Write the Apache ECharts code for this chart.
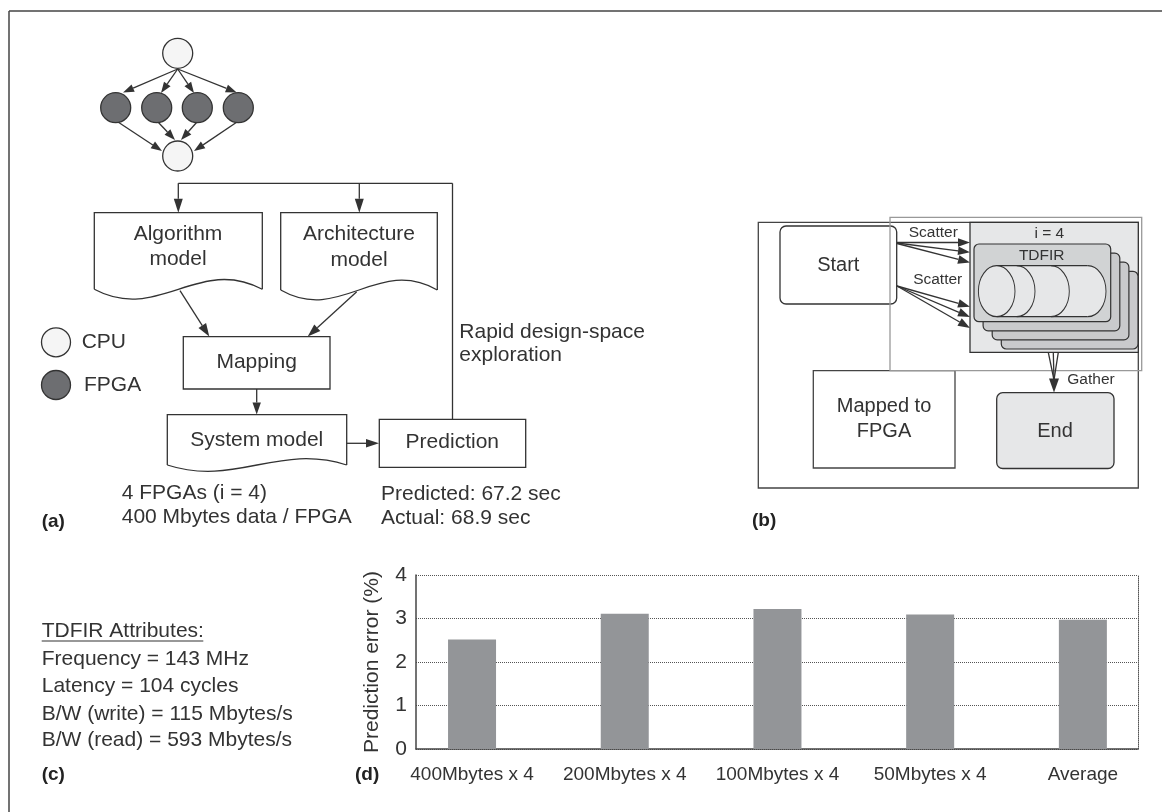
<!DOCTYPE html>
<html>
<head>
<meta charset="utf-8">
<script src="https://cdn.jsdelivr.net/npm/echarts@6/dist/echarts.min.js"></script>
<style>html,body{margin:0;padding:0;background:#fff}#main{width:1162px;height:812px}</style>
</head>
<body>
<div id="main"></div>
<script>
// ---- Data (panel d) ----
const categories = ['400Mbytes x 4', '200Mbytes x 4', '100Mbytes x 4', '50Mbytes x 4', 'Average'];
const errorValues = [2.52, 3.11, 3.22, 3.09, 2.97];
const yTickValues = [0, 1, 2, 3, 4];

// ---- Text content of the diagram panels ----
const attrTitle = 'TDFIR Attributes:';
const attrLines = ['Frequency = 143 MHz', 'Latency = 104 cycles', 'B/W (write) = 115 Mbytes/s', 'B/W (read) = 593 Mbytes/s'];
const configLines = ['4 FPGAs (i = 4)', '400 Mbytes data / FPGA'];
const resultLines = ['Predicted: 67.2 sec', 'Actual: 68.9 sec'];

const FONT = 'Liberation Sans, Helvetica, Arial, sans-serif';
const C = '#333';
const G = [];

function line(x1, y1, x2, y2, w, c) {
  G.push({type: 'line', shape: {x1, y1, x2, y2}, style: {stroke: c || C, lineWidth: w || 1.3}});
}
function poly(points, w, c) {
  G.push({type: 'polyline', shape: {points}, style: {stroke: c || C, lineWidth: w || 1.3, fill: null}});
}
function arrowHead(x1, y1, x2, y2, len, hw) {
  const dx = x2 - x1, dy = y2 - y1, L = Math.hypot(dx, dy), ux = dx / L, uy = dy / L;
  const bx = x2 - ux * len, by = y2 - uy * len;
  G.push({type: 'polygon', shape: {points: [[x2, y2], [bx - uy * hw, by + ux * hw], [bx + uy * hw, by - ux * hw]]}, style: {fill: C}});
  return [bx, by];
}
function arrow(x1, y1, x2, y2, len, hw) {
  len = len || 12; hw = hw || 4.2;
  const b = arrowHead(x1, y1, x2, y2, len, hw);
  line(x1, y1, b[0] , b[1]);
}
function text(str, x, y, size, align, bold, color) {
  G.push({type: 'text', x, y, style: {
    text: str, font: (bold ? 'bold ' : '') + size + 'px ' + FONT, fill: color || C,
    textAlign: align || 'center', align: align || 'center', textVerticalAlign: 'middle', verticalAlign: 'middle'
  }});
}
function rect(x1, y1, x2, y2, fill, r, stroke, w) {
  G.push({type: 'rect', shape: {x: x1, y: y1, width: x2 - x1, height: y2 - y1, r: r || 0},
    style: {fill: fill || null, stroke: stroke === undefined ? C : stroke, lineWidth: w || 1.3}});
}
function circle(cx, cy, r, fill) {
  G.push({type: 'circle', shape: {cx, cy, r}, style: {fill, stroke: C, lineWidth: 1.3}});
}
function ellipse(cx, cy, rx, ry, fill, stroke) {
  G.push({type: 'circle', x: cx, y: cy, scaleX: rx / ry, shape: {cx: 0, cy: 0, r: ry},
    style: {fill: fill || null, stroke: stroke || null, lineWidth: 1.3, strokeNoScale: true}});
}
function halfArc(cx, cy, rx, ry) {
  G.push({type: 'arc', x: cx, y: cy, scaleX: rx / ry,
    shape: {cx: 0, cy: 0, r: ry, startAngle: -Math.PI / 2, endAngle: Math.PI / 2, clockwise: true},
    style: {stroke: C, lineWidth: 1.3, fill: null, strokeNoScale: true}});
}
function docShape(x1, y1, x2, yb, a) {
  const w = x2 - x1;
  poly([[x1, yb], [x1, y1], [x2, y1], [x2, yb]]);
  G.push({type: 'bezierCurve', shape: {x1: x1, y1: yb, x2: x2, y2: yb,
    cpx1: x1 + w * 0.38, cpy1: yb + a, cpx2: x1 + w * 0.62, cpy2: yb - a},
    style: {stroke: C, lineWidth: 1.3, fill: null}});
}

// ---- outer frame (top & left edges visible) ----
line(9, 11, 1162, 11, 1.5, '#444');
line(9, 11, 9, 812, 1.5, '#444');

// ---- panel (a): task graph ----
const CPUF = '#f5f5f5', FPGAF = '#6d6e71';
arrow(177.7, 69, 123, 92.5, 11, 4);
arrow(177.7, 69, 161, 93, 11, 4);
arrow(177.7, 69, 194, 93, 11, 4);
arrow(177.7, 69, 236.7, 92.5, 11, 4);
arrow(118, 122, 162, 151, 11, 4);
arrow(158, 122, 175, 140, 11, 4);
arrow(197, 122, 181, 140, 11, 4);
arrow(237, 122, 194, 151, 11, 4);
circle(177.7, 53.3, 15, CPUF);
[115.7, 156.7, 197.3, 238.3].forEach(cx => circle(cx, 107.7, 15, FPGAF));
circle(177.7, 156, 15, CPUF);

// legend
circle(56, 342.3, 14.5, CPUF);
circle(56, 385, 14.5, FPGAF);
text('CPU', 81.7, 342.3, 21, 'left');
text('FPGA', 84, 385, 21, 'left');

// feedback loop
line(178.3, 183.3, 452.5, 183.3);
line(452.5, 183.3, 452.5, 419.3);
arrow(178.3, 183.3, 178.3, 212.7, 14, 4.5);
arrow(359.3, 183.3, 359.3, 212.7, 14, 4.5);

// document shapes
docShape(94.3, 212.7, 262.3, 289.3, 34);
text('Algorithm', 178, 234, 21);
text('model', 178, 259, 21);
docShape(280.7, 212.7, 437.3, 290, 34);
text('Architecture', 359, 234, 21);
text('model', 359, 260, 21);

arrow(180, 290.7, 209.3, 336.5, 13, 4.5);
arrow(356.7, 291.7, 307.7, 336.5, 13, 4.5);

rect(183.3, 336.7, 330, 389);
text('Mapping', 256.7, 362.7, 21);
arrow(256.7, 389, 256.7, 414.5, 12, 4.2);

docShape(167.3, 414.7, 346.7, 465, 22);
text('System model', 256.7, 440, 21);
arrow(346.7, 443.3, 379, 443.3, 13, 4.3);

rect(379.3, 419.3, 525.7, 467.3);
text('Prediction', 452.3, 442.7, 21);

text('Rapid design-space', 459.3, 332.3, 21, 'left');
text('exploration', 459.3, 355.5, 21, 'left');

text(configLines[0], 121.7, 493.5, 21, 'left');
text(configLines[1], 121.7, 517.7, 21, 'left');
text(resultLines[0], 381, 494, 21, 'left');
text(resultLines[1], 381, 518.3, 21, 'left');
text('(a)', 41.7, 521.7, 19, 'left', true, '#222');

// ---- panel (b) ----
rect(758.3, 222.3, 1138.3, 488, null, 0, '#444', 1.3);
rect(813.3, 370.7, 955, 468, '#fff', 0, '#444', 1.3);
text('Mapped to', 884, 406, 20);
text('FPGA', 884, 431.7, 20);
rect(780, 226, 896.7, 304, '#fff', 6, '#333', 1.3);
text('Start', 838.3, 265, 20);
rect(890, 217.3, 1141.7, 370.7, null, 0, '#999', 1.3);
rect(970, 222.3, 1138.3, 352.3, '#e6e7e8', 0, '#333', 1.3);
text('i = 4', 1049.3, 233.3, 15.5);
// stacked TDFIR cards (back to front)
for (let k = 3; k >= 0; k--) {
  const o = k * 9.1;
  rect(974 + o, 244 + o, 1110.7 + o, 321.7 + o, k === 0 ? '#d1d3d4' : '#c9cacc', 5, '#333', 1.2);
}
text('TDFIR', 1041.7, 256, 15.5);
// cylinder
const cyT = 265.7, cyB = 316.7, cyM = (cyT + cyB) / 2, ry = (cyB - cyT) / 2, rx = 18.3;
ellipse(1087.7, cyM, rx, ry, '#e6e7e8', null);
G.push({type: 'rect', shape: {x: 996.7, y: cyT, width: 1087.7 - 996.7, height: cyB - cyT}, style: {fill: '#e6e7e8'}});
line(996.7, cyT, 1087.7, cyT, 1.2);
line(996.7, cyB, 1087.7, cyB, 1.2);
halfArc(1087.7, cyM, rx, ry);
halfArc(1051, cyM, rx, ry);
halfArc(1016.7, cyM, rx, ry);
ellipse(996.7, cyM, rx, ry, '#e6e7e8', C);

// scatter arrows
text('Scatter', 933.3, 232.3, 15.5);
arrow(897, 242.5, 970, 242.5, 12, 4.3);
arrow(897, 243, 970, 252.3, 12, 4.3);
arrow(897, 243.5, 970, 262.5, 12, 4.3);
text('Scatter', 937.7, 279.3, 15.5);
arrow(897, 286, 970, 306.7, 12, 4.3);
arrow(897, 286, 970, 317, 12, 4.3);
arrow(897, 286, 970, 328, 12, 4.3);

// gather
line(1048.3, 352.3, 1054, 380);
line(1053.3, 352.3, 1054, 380);
line(1058.3, 352.3, 1054, 380);
arrowHead(1054, 352.3, 1054, 392.5, 14, 5);
text('Gather', 1067.3, 380, 15.5, 'left');
rect(996.7, 392.7, 1114, 468.5, '#e6e7e8', 6, '#333', 1.3);
text('End', 1055, 431.7, 20);
text('(b)', 752, 521, 19, 'left', true, '#222');

// ---- panel (c) ----
text(attrTitle, 41.7, 631.7, 21, 'left');
line(41.7, 641, 203.3, 641, 1.1);
attrLines.forEach((s, i) => text(s, 41.7, [659.3, 686.7, 714.3, 740.7][i], 21, 'left'));
text('(c)', 41.7, 775, 19, 'left', true, '#222');
text('(d)', 355, 775, 19, 'left', true, '#222');

// ---- chart ----
const chart = echarts.init(document.getElementById('main'), null, {renderer: 'canvas'});
chart.setOption({
  animation: false,
  backgroundColor: '#fff',
  textStyle: {fontFamily: FONT},
  grid: {left: 416, right: 24, top: 575, bottom: 63, containLabel: false},
  xAxis: {
    type: 'value', min: -0.367, max: 4.361,
    axisLine: {show: true, onZero: false, lineStyle: {color: '#444', width: 1.5}},
    axisTick: {show: false},
    splitLine: {show: false},
    axisLabel: {
      customValues: categories.map((c, i) => i),
      formatter: v => categories[Math.round(v)] || '',
      fontSize: 19, color: C, margin: 16, fontFamily: FONT
    }
  },
  yAxis: [{
    type: 'value', min: yTickValues[0], max: yTickValues[yTickValues.length - 1], interval: 1,
    position: 'left',
    axisLine: {show: true, onZero: false, lineStyle: {color: '#444', width: 1.5}},
    axisTick: {show: false},
    splitLine: {show: true, lineStyle: {type: 'dotted', color: '#555', width: 1}},
    axisLabel: {fontSize: 21, color: C, margin: 9, fontFamily: FONT},
    name: 'Prediction error (%)', nameLocation: 'middle', nameRotate: 90, nameGap: 33,
    nameTextStyle: {fontSize: 21, color: C, fontFamily: FONT}
  }, {
    type: 'value', min: 0, max: 4, position: 'right',
    axisLine: {show: true, onZero: false, lineStyle: {type: 'dotted', color: '#555', width: 1}},
    axisTick: {show: false}, axisLabel: {show: false}, splitLine: {show: false}
  }],
  series: [{
    type: 'bar', barWidth: 48, yAxisIndex: 0,
    itemStyle: {color: '#939598'},
    data: categories.map((c, i) => [i, errorValues[i]])
  }],
  graphic: {elements: G}
});
</script>
</body>
</html>
